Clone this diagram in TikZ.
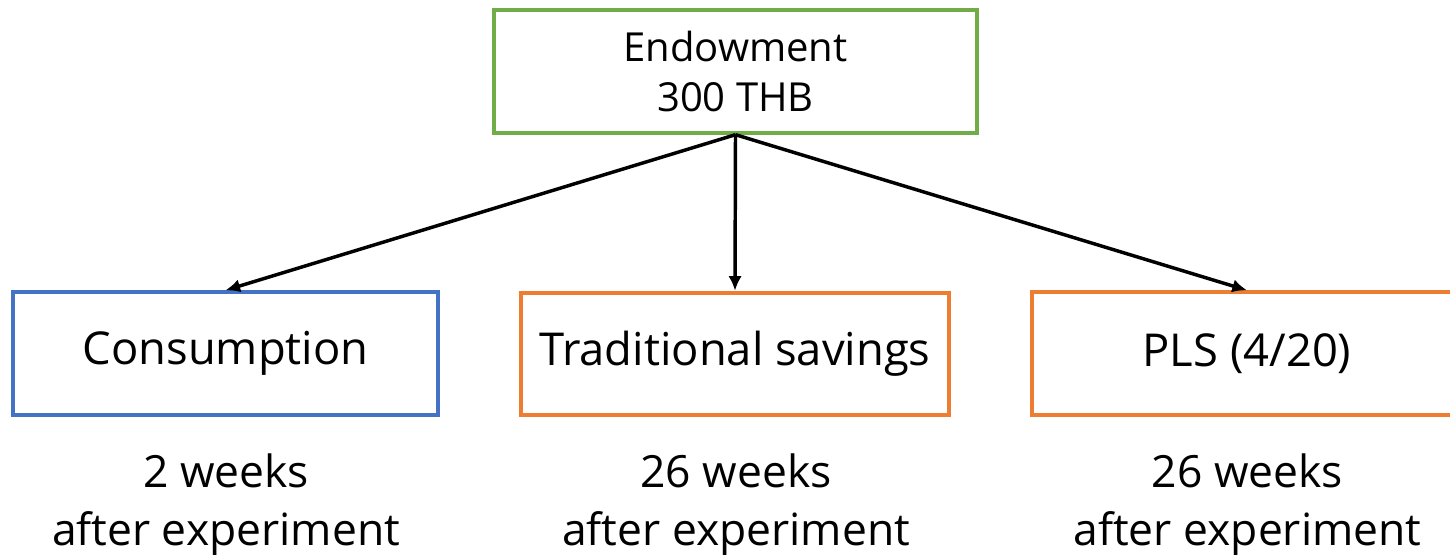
\documentclass[tikz,border=0pt]{standalone}
\usepackage{fontspec}
\setmainfont{Open Sans}
\usetikzlibrary{arrows.meta}
\definecolor{boxgreen}{RGB}{112,173,71}
\definecolor{boxblue}{RGB}{68,114,196}
\definecolor{boxorange}{RGB}{237,125,49}
\begin{document}
\begin{tikzpicture}[x=0.75pt, y=-0.75pt,
    box/.style={draw, line width=2.8pt, minimum height=92pt, inner sep=0pt,
                font=\fontsize{34}{40}\selectfont},
    lab/.style={align=center, font=\fontsize{33.3}{43}\selectfont},
    arr/.style={line width=2.6pt, -{Latex[length=11pt, width=10pt]}}]
    \useasboundingbox (0,0) rectangle (1450,555);

    % --- Dotazione iniziale ---
    \node[box, boxgreen, text=black, minimum width=362pt, minimum height=92pt,
          align=center, font=\fontsize{30}{38}\selectfont]
          (endow) at (735.5,71.5) {Endowment\\300 THB};

    % --- Tre alternative ---
    \node[box, boxblue, text=black, minimum width=319pt] (cons) at (225.5,353.5) {Consumption};
    \node[box, boxorange, text=black, minimum width=321pt] (trad) at (735,354) {Traditional savings};
    \node[box, boxorange, text=black, minimum width=322pt] (pls) at (1247,353.5) {PLS (4/20)};

    % --- Frecce ---
    \draw[arr] (endow.south) -- (cons.north);
    \draw[arr] (endow.south) -- (trad.north);
    \draw[arr] (endow.south) -- (pls.north);

    % --- Tempi di pagamento ---
    \node[lab] (tcons) at (226,505) {2 weeks\\after experiment};
    \node[lab] (ttrad) at (736,505) {26 weeks\\after experiment};
    \node[lab] (tpls) at (1247.5,505) {26 weeks\\after experiment};
\end{tikzpicture}
\end{document}
